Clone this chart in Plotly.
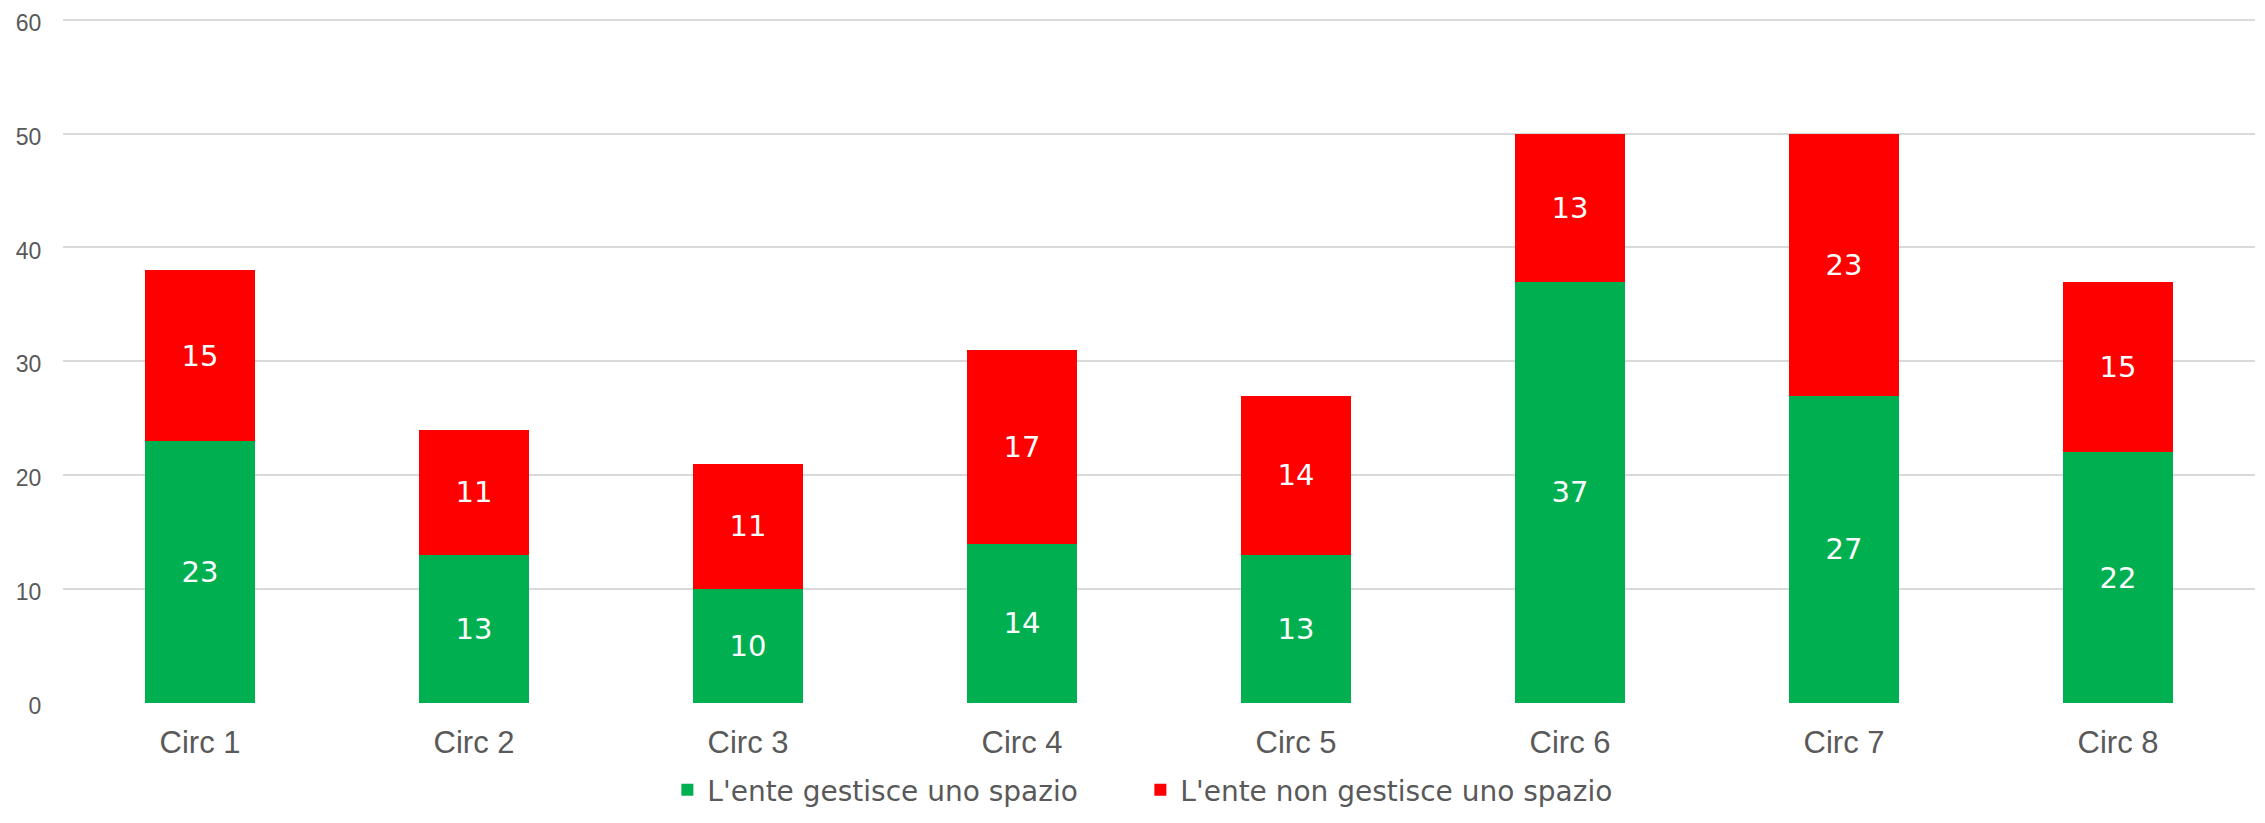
import plotly.graph_objects as go

categories = ["Circ 1", "Circ 2", "Circ 3", "Circ 4", "Circ 5", "Circ 6", "Circ 7", "Circ 8"]
gestisce = [23, 13, 10, 14, 13, 37, 27, 22]
non_gestisce = [15, 11, 11, 17, 14, 13, 23, 15]
series_names = ["L'ente gestisce uno spazio", "L'ente non gestisce uno spazio"]
y_ticks = [0, 10, 20, 30, 40, 50, 60]

label_font = dict(family="DejaVu Sans", size=29, color="white")

fig = go.Figure()
fig.add_trace(go.Bar(
    x=categories, y=gestisce, name=series_names[0],
    marker=dict(color="#00B050", line=dict(width=0)),
    text=gestisce, textposition="inside", insidetextanchor="middle",
    textangle=0, textfont=label_font, hoverinfo="skip",
))
fig.add_trace(go.Bar(
    x=categories, y=non_gestisce, name=series_names[1],
    marker=dict(color="#FF0000", line=dict(width=0)),
    text=non_gestisce, textposition="inside", insidetextanchor="middle",
    textangle=0, textfont=label_font, hoverinfo="skip",
))

fig.update_layout(
    barmode="stack",
    bargap=0.6,
    width=2249, height=807,
    margin=dict(l=55, r=2, t=10, b=112, autoexpand=False),
    paper_bgcolor="white", plot_bgcolor="white",
    uniformtext=dict(minsize=29, mode="show"),
    showlegend=True,
    legend=dict(
        orientation="h", xref="container", x=0.5035, xanchor="center",
        yref="container", y=-0.014, yanchor="bottom",
        font=dict(family="DejaVu Sans", size=28, color="#595959"),
        itemwidth=30, traceorder="normal",
        entrywidth=428, entrywidthmode="pixels",
        bgcolor="rgba(0,0,0,0)",
    ),
    xaxis=dict(
        showgrid=False, showline=False, zeroline=False,
        ticks="outside", ticklen=12, tickcolor="rgba(0,0,0,0)",
        tickfont=dict(family="Liberation Sans, Arial", size=31, color="#595959"),
    ),
    yaxis=dict(
        range=[0, 60.15], tickvals=y_ticks,
        showgrid=True, gridcolor="#D9D9D9", gridwidth=1.5,
        showline=False, zeroline=False,
        ticks="outside", ticklen=16, tickcolor="rgba(0,0,0,0)",
        ticklabeloverflow="allow", ticklabelshift=3,
        tickfont=dict(family="Liberation Sans, Arial", size=23, color="#595959"),
    ),
)

fig.write_html("out.html")
